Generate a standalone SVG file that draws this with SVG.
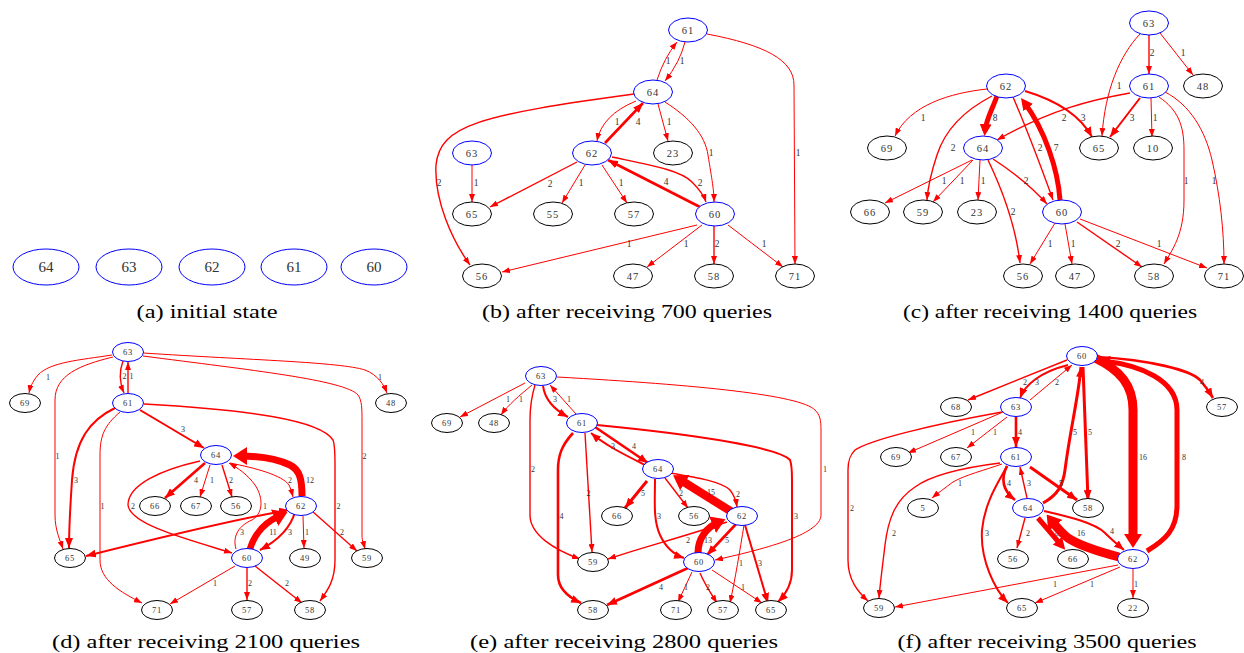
<svg xmlns="http://www.w3.org/2000/svg" width="1244" height="653" viewBox="0 0 1244 653">
<style>
text{font-family:"Liberation Serif",serif;fill:#333;text-anchor:middle;dominant-baseline:central}
.cap{font-size:19px;fill:#000;dominant-baseline:alphabetic}
.na{font-size:15px}
.tb{font-size:10.5px;letter-spacing:1px}
.td{font-size:8.5px;letter-spacing:0.8px}
.lb{font-size:9.5px}
.ld{font-size:8px}
ellipse{fill:#fff;stroke:#000;stroke-width:1}
ellipse.bl{stroke:#00f}
.edges path{fill:none;stroke:#f00}
.e1{stroke-width:1;marker-end:url(#a1)}
.e2{stroke-width:1.4;marker-end:url(#a1)}
.e3{stroke-width:2;marker-end:url(#a2)}
.e4{stroke-width:2.6;marker-end:url(#a2)}
.e5{stroke-width:3;marker-end:url(#a2)}
.e7{stroke-width:5;marker-end:url(#a3)}
.e11{stroke-width:6.5;marker-end:url(#a4)}
.e12{stroke-width:7;marker-end:url(#a4)}
.e15{stroke-width:8.5;marker-end:url(#a4)}
.e16{stroke-width:9;marker-end:url(#a4)}
</style>
<defs>
<marker id="a1" markerUnits="userSpaceOnUse" markerWidth="8" markerHeight="6" refX="8" refY="3" orient="auto-start-reverse"><path d="M0,0 L8,3 L0,6 z" fill="#f00"/></marker>
<marker id="a2" markerUnits="userSpaceOnUse" markerWidth="10" markerHeight="8" refX="10" refY="4" orient="auto-start-reverse"><path d="M0,0 L10,4 L0,8 z" fill="#f00"/></marker>
<marker id="a3" markerUnits="userSpaceOnUse" markerWidth="12" markerHeight="12" refX="7" refY="6" orient="auto"><path d="M0,0 L12,6 L0,12 z" fill="#f00"/></marker>
<marker id="a4" markerUnits="userSpaceOnUse" markerWidth="14" markerHeight="18" refX="7" refY="9" orient="auto"><path d="M0,0 L14,9 L0,18 z" fill="#f00"/></marker>
</defs>

<!-- Panel (a) -->
<g id="a-n64"><ellipse class="bl" cx="46" cy="267" rx="33" ry="18"/><text class="na" x="46" y="267">64</text></g>
<g id="a-n63"><ellipse class="bl" cx="129" cy="267" rx="33" ry="18"/><text class="na" x="129" y="267">63</text></g>
<g id="a-n62"><ellipse class="bl" cx="212" cy="267" rx="33" ry="18"/><text class="na" x="212" y="267">62</text></g>
<g id="a-n61"><ellipse class="bl" cx="294" cy="267" rx="33" ry="18"/><text class="na" x="294" y="267">61</text></g>
<g id="a-n60"><ellipse class="bl" cx="374" cy="267" rx="33" ry="18"/><text class="na" x="374" y="267">60</text></g>
<text class="cap" x="207" y="318" textLength="141" lengthAdjust="spacingAndGlyphs">(a) initial state</text>

<!-- Panel (b) -->
<g class="edges" id="b-edges">
<path class="e1" d="M657,80 Q664,58 677,42"/><text class="lb" x="668" y="61">1</text>
<path class="e1" d="M685,42 Q680,62 665,81"/><text class="lb" x="682" y="61">1</text>
<path class="e1" d="M707,34 C765,45 794,60 794,85 L795,264"/><text class="lb" x="798" y="153">1</text>
<path class="e2" d="M634,94 C480,115 440,125 436,165 C434,200 452,240 470,265"/><text class="lb" x="439" y="183">2</text>
<path class="e1" d="M636,101 Q602,115 597,141"/><text class="lb" x="617" y="122">1</text>
<path class="e4" d="M605,143 L643,103"/><text class="lb" x="638" y="122">4</text>
<path class="e1" d="M658,104 L668,141"/><text class="lb" x="669" y="122">1</text>
<path class="e1" d="M665,102 C690,118 705,135 708,155 C712,180 714,190 714,202"/><text class="lb" x="711" y="153">1</text>
<path class="e1" d="M472,165 L472,202"/><text class="lb" x="476" y="183">1</text>
<path class="e2" d="M577,162 L490,207"/><text class="lb" x="550" y="184">2</text>
<path class="e1" d="M585,165 L562,203"/><text class="lb" x="581" y="183">1</text>
<path class="e1" d="M602,165 L627,203"/><text class="lb" x="621" y="183">1</text>
<path class="e4" d="M700,207 L608,160"/><text class="lb" x="666" y="182">4</text>
<path class="e2" d="M612,157 C650,165 680,170 692,182 C700,190 704,196 706,202"/><text class="lb" x="700" y="183">2</text>
<path class="e1" d="M697,225 L502,272"/><text class="lb" x="629" y="244">1</text>
<path class="e1" d="M702,225 L647,267"/><text class="lb" x="686" y="244">1</text>
<path class="e2" d="M714,226 L714,264"/><text class="lb" x="717" y="244">2</text>
<path class="e1" d="M728,225 L783,267"/><text class="lb" x="764" y="244">1</text>
</g>
<g id="b-n61"><ellipse class="bl" cx="688" cy="30" rx="19.5" ry="12"/><text class="tb" x="688" y="30">61</text></g>
<g id="b-n64"><ellipse class="bl" cx="653" cy="92" rx="19.5" ry="12"/><text class="tb" x="653" y="92">64</text></g>
<g id="b-n63"><ellipse class="bl" cx="472" cy="153" rx="19.5" ry="12"/><text class="tb" x="472" y="153">63</text></g>
<g id="b-n62"><ellipse class="bl" cx="592" cy="153" rx="19.5" ry="12"/><text class="tb" x="592" y="153">62</text></g>
<g id="b-n23"><ellipse cx="673" cy="153" rx="19.5" ry="12"/><text class="tb" x="673" y="153">23</text></g>
<g id="b-n65"><ellipse cx="472" cy="214" rx="19.5" ry="12"/><text class="tb" x="472" y="214">65</text></g>
<g id="b-n55"><ellipse cx="553" cy="214" rx="19.5" ry="12"/><text class="tb" x="553" y="214">55</text></g>
<g id="b-n57"><ellipse cx="634" cy="214" rx="19.5" ry="12"/><text class="tb" x="634" y="214">57</text></g>
<g id="b-n60"><ellipse class="bl" cx="715" cy="214" rx="19.5" ry="12"/><text class="tb" x="715" y="214">60</text></g>
<g id="b-n56"><ellipse cx="482" cy="276" rx="19.5" ry="12"/><text class="tb" x="482" y="276">56</text></g>
<g id="b-n47"><ellipse cx="633" cy="276" rx="19.5" ry="12"/><text class="tb" x="633" y="276">47</text></g>
<g id="b-n58"><ellipse cx="714" cy="276" rx="19.5" ry="12"/><text class="tb" x="714" y="276">58</text></g>
<g id="b-n71"><ellipse cx="795" cy="276" rx="19.5" ry="12"/><text class="tb" x="795" y="276">71</text></g>
<text class="cap" x="627" y="318" textLength="290" lengthAdjust="spacingAndGlyphs">(b) after receiving 700 queries</text>

<!-- Panel (c) -->
<g class="edges" id="c-edges">
<path class="e2" d="M1149,35 L1149,74"/><text class="lb" x="1152" y="53">2</text>
<path class="e1" d="M1160,33 L1193,75"/><text class="lb" x="1183" y="53">1</text>
<path class="e1" d="M1140,34 C1120,55 1105,90 1102,136"/><text class="lb" x="1119" y="86">1</text>
<path class="e2" d="M1130,93 C1090,100 1050,110 997,140"/><text class="lb" x="1064" y="118">2</text>
<path class="e3" d="M1140,98 L1110,137"/><text class="lb" x="1132" y="118">3</text>
<path class="e1" d="M1151,98 L1152,137"/><text class="lb" x="1155" y="118">1</text>
<path class="e1" d="M1159,97 C1178,110 1184,125 1184,150 L1184,200 C1184,235 1172,250 1164,264"/><text class="lb" x="1186" y="181">1</text>
<path class="e1" d="M1165,92 C1190,105 1205,130 1212,160 C1220,195 1224,230 1224,264"/><text class="lb" x="1214" y="181">1</text>
<path class="e1" d="M987,89 C950,93 910,105 895,136"/><text class="lb" x="923" y="118">1</text>
<path class="e7" d="M997,96 C992,110 986,120 985,131"/><text class="lb" x="995" y="118">8</text>
<path class="e3" d="M1025,91 C1055,100 1080,115 1092,137"/><text class="lb" x="1083" y="118">3</text>
<path class="e2" d="M992,96 C965,110 945,130 937,155 C932,170 928,185 927,200"/><text class="lb" x="953" y="148">2</text>
<path class="e2" d="M1013,97 C1025,125 1035,150 1053,200"/><text class="lb" x="1040" y="148">2</text>
<path class="e7" d="M1060,200 C1058,170 1045,130 1024,102"/><text class="lb" x="1056" y="148">7</text>
<path class="e1" d="M972,160 L885,203"/><text class="lb" x="944" y="181">1</text>
<path class="e1" d="M973,160 L933,202"/><text class="lb" x="962" y="181">1</text>
<path class="e1" d="M980,160 L978,200"/><text class="lb" x="983" y="181">1</text>
<path class="e2" d="M993,159 C1010,170 1030,185 1047,204"/><text class="lb" x="1026" y="181">2</text>
<path class="e2" d="M988,160 C1000,185 1015,220 1020,263"/><text class="lb" x="1013" y="212">2</text>
<path class="e1" d="M1055,223 L1030,264"/><text class="lb" x="1050" y="244">1</text>
<path class="e1" d="M1065,224 L1072,264"/><text class="lb" x="1073" y="244">1</text>
<path class="e2" d="M1077,222 L1142,267"/><text class="lb" x="1118" y="244">2</text>
<path class="e1" d="M1080,219 L1207,268"/><text class="lb" x="1159" y="244">1</text>
</g>
<g id="c-n63"><ellipse class="bl" cx="1149" cy="23" rx="19.5" ry="12"/><text class="tb" x="1149" y="23">63</text></g>
<g id="c-n61"><ellipse class="bl" cx="1149" cy="86" rx="19.5" ry="12"/><text class="tb" x="1149" y="86">61</text></g>
<g id="c-n48"><ellipse cx="1203" cy="86" rx="19.5" ry="12"/><text class="tb" x="1203" y="86">48</text></g>
<g id="c-n62"><ellipse class="bl" cx="1006" cy="86" rx="19.5" ry="12"/><text class="tb" x="1006" y="86">62</text></g>
<g id="c-n69"><ellipse cx="887" cy="148" rx="19.5" ry="12"/><text class="tb" x="887" y="148">69</text></g>
<g id="c-n64"><ellipse class="bl" cx="983" cy="148" rx="19.5" ry="12"/><text class="tb" x="983" y="148">64</text></g>
<g id="c-n65"><ellipse cx="1099" cy="148" rx="19.5" ry="12"/><text class="tb" x="1099" y="148">65</text></g>
<g id="c-n10"><ellipse cx="1153" cy="148" rx="19.5" ry="12"/><text class="tb" x="1153" y="148">10</text></g>
<g id="c-n66"><ellipse cx="870" cy="212" rx="19.5" ry="12"/><text class="tb" x="870" y="212">66</text></g>
<g id="c-n59"><ellipse cx="923" cy="212" rx="19.5" ry="12"/><text class="tb" x="923" y="212">59</text></g>
<g id="c-n23"><ellipse cx="977" cy="212" rx="19.5" ry="12"/><text class="tb" x="977" y="212">23</text></g>
<g id="c-n60"><ellipse class="bl" cx="1062" cy="212" rx="19.5" ry="12"/><text class="tb" x="1062" y="212">60</text></g>
<g id="c-n56"><ellipse cx="1023" cy="276" rx="19.5" ry="12"/><text class="tb" x="1023" y="276">56</text></g>
<g id="c-n47"><ellipse cx="1075" cy="276" rx="19.5" ry="12"/><text class="tb" x="1075" y="276">47</text></g>
<g id="c-n58"><ellipse cx="1154" cy="276" rx="19.5" ry="12"/><text class="tb" x="1154" y="276">58</text></g>
<g id="c-n71"><ellipse cx="1224" cy="276" rx="19.5" ry="12"/><text class="tb" x="1224" y="276">71</text></g>
<text class="cap" x="1050" y="318" textLength="294" lengthAdjust="spacingAndGlyphs">(c) after receiving 1400 queries</text>

<!-- Panel (d) -->
<g class="edges" id="d-edges">
<path class="e1" d="M112,355 C80,360 50,362 38,375 C32,382 30,388 29,393"/><text class="ld" x="48" y="377">1</text>
<path class="e2" d="M123,361 Q117,377 124,393"/><text class="ld" x="124.5" y="376">2</text>
<path class="e2" d="M128,393 L128,362"/><text class="ld" x="131.5" y="376">1</text>
<path class="e1" d="M143,353 C250,360 340,362 365,370 C378,375 384,385 387,393"/><text class="ld" x="380" y="377">1</text>
<path class="e1" d="M113,357 C80,365 55,375 55,400 L55,515 C55,530 60,540 63,549"/><text class="ld" x="57.5" y="456">1</text>
<path class="e1" d="M143,356 C250,370 345,380 358,395 C362,400 362,410 362,420 L362,535 C362,542 364,545 365,549"/><text class="ld" x="364.5" y="456">2</text>
<path class="e3" d="M140,410 L204,448"/><text class="ld" x="183" y="429">3</text>
<path class="e3" d="M115,408 C90,420 75,440 72,480 C70,510 69,530 69,548"/><text class="ld" x="76" y="480">3</text>
<path class="e1" d="M120,412 C105,425 100,435 100,455 L100,560 C100,580 120,592 142,603"/><text class="ld" x="102.5" y="506">1</text>
<path class="e2" d="M144,404 C250,410 320,420 333,440 C335,445 335,455 335,465 L335,560 C335,580 328,590 320,601"/><text class="ld" x="338.5" y="506">2</text>
<path class="e4" d="M205,463 L165,498"/><text class="ld" x="196" y="480">4</text>
<path class="e1" d="M210,465 L200,497"/><text class="ld" x="212" y="480">1</text>
<path class="e2" d="M222,465 L232,497"/><text class="ld" x="231" y="480">2</text>
<path class="e1" d="M230,463 C255,468 282,475 289,485 C291,489 292,493 293,497"/><text class="ld" x="290" y="480">2</text>
<path class="e12" d="M302,496 C302,480 300,470 290,465 C275,458 255,456 240,456"/><text class="ld" x="310" y="480">12</text>
<path class="e2" d="M200,461 C160,470 128,485 128,505 C130,525 190,540 232,553"/><text class="ld" x="133" y="506">2</text>
<path class="e1" d="M236,549 C232,535 240,525 252,520 C265,512 262,495 255,485 C248,475 238,468 229,463"/><text class="ld" x="265" y="506">1</text>
<path class="e3" style="marker-start:url(#a2)" d="M86,556 C150,540 230,520 289,510"/><text class="ld" x="242" y="532">3</text>
<path class="e11" d="M250,549 C255,532 265,522 281,515"/><text class="ld" x="273" y="532">11</text>
<path class="e3" d="M295,512 C290,530 275,542 260,550"/><text class="ld" x="290" y="532">3</text>
<path class="e1" d="M303,516 L304,548"/><text class="ld" x="307" y="532">1</text>
<path class="e2" d="M312,511 L357,551"/><text class="ld" x="342" y="532">2</text>
<path class="e1" d="M235,566 L170,604"/><text class="ld" x="215" y="583">1</text>
<path class="e2" d="M247,568 L247,600"/><text class="ld" x="250" y="583">2</text>
<path class="e2" d="M255,566 L302,603"/><text class="ld" x="287" y="583">2</text>
</g>
<g id="d-n63"><ellipse class="bl" cx="128" cy="352" rx="15.5" ry="9.5"/><text class="td" x="128" y="352">63</text></g>
<g id="d-n69"><ellipse cx="25" cy="403" rx="15.5" ry="9.5"/><text class="td" x="25" y="403">69</text></g>
<g id="d-n61"><ellipse class="bl" cx="128" cy="403" rx="15.5" ry="9.5"/><text class="td" x="128" y="403">61</text></g>
<g id="d-n48"><ellipse cx="391" cy="403" rx="15.5" ry="9.5"/><text class="td" x="391" y="403">48</text></g>
<g id="d-n64"><ellipse class="bl" cx="216" cy="455" rx="15.5" ry="9.5"/><text class="td" x="216" y="455">64</text></g>
<g id="d-n66"><ellipse cx="155" cy="506" rx="15.5" ry="9.5"/><text class="td" x="155" y="506">66</text></g>
<g id="d-n67"><ellipse cx="196" cy="506" rx="15.5" ry="9.5"/><text class="td" x="196" y="506">67</text></g>
<g id="d-n56"><ellipse cx="236" cy="506" rx="15.5" ry="9.5"/><text class="td" x="236" y="506">56</text></g>
<g id="d-n62"><ellipse class="bl" cx="301" cy="506" rx="15.5" ry="9.5"/><text class="td" x="301" y="506">62</text></g>
<g id="d-n65"><ellipse cx="70" cy="558" rx="15.5" ry="9.5"/><text class="td" x="70" y="558">65</text></g>
<g id="d-n60"><ellipse class="bl" cx="247" cy="558" rx="15.5" ry="9.5"/><text class="td" x="247" y="558">60</text></g>
<g id="d-n49"><ellipse cx="305" cy="558" rx="15.5" ry="9.5"/><text class="td" x="305" y="558">49</text></g>
<g id="d-n59"><ellipse cx="367" cy="558" rx="15.5" ry="9.5"/><text class="td" x="367" y="558">59</text></g>
<g id="d-n71"><ellipse cx="157" cy="610" rx="15.5" ry="9.5"/><text class="td" x="157" y="610">71</text></g>
<g id="d-n57"><ellipse cx="247" cy="610" rx="15.5" ry="9.5"/><text class="td" x="247" y="610">57</text></g>
<g id="d-n58"><ellipse cx="310" cy="610" rx="15.5" ry="9.5"/><text class="td" x="310" y="610">58</text></g>
<text class="cap" x="206" y="648" textLength="308" lengthAdjust="spacingAndGlyphs">(d) after receiving 2100 queries</text>

<!-- Panel (e) -->
<g class="edges" id="e-edges">
<path class="e1" d="M525,383 L460,417"/><text class="ld" x="508" y="399">1</text>
<path class="e1" d="M532,385 C520,395 508,405 501,415"/><text class="ld" x="521" y="399">1</text>
<path class="e3" d="M543,386 C545,400 555,410 568,417"/><text class="ld" x="555" y="399">3</text>
<path class="e1" d="M576,414 L550,385"/><text class="ld" x="569" y="399">1</text>
<path class="e1" d="M557,377 C700,385 800,395 815,410 C820,415 821,420 821,430 L821,515 C821,535 760,550 715,560"/><text class="ld" x="825" y="469">1</text>
<path class="e2" d="M535,385 C532,395 530,405 530,420 L530,515 C530,535 555,550 580,559"/><text class="ld" x="533" y="469">2</text>
<path class="e4" d="M573,433 C562,445 558,455 558,470 L558,575 C558,590 570,598 581,603"/><text class="ld" x="561.5" y="516">4</text>
<path class="e2" d="M585,433 L592,552"/><text class="ld" x="588.5" y="493">2</text>
<path class="e4" d="M595,427 L648,463"/><text class="ld" x="634" y="446">4</text>
<path class="e3" d="M645,465 C625,455 605,445 591,433"/><text class="ld" x="613" y="446">3</text>
<path class="e3" d="M597,425 C700,435 780,448 790,460 C792,465 792,470 792,480 L792,570 C792,585 785,595 778,602"/><text class="ld" x="796" y="516">3</text>
<path class="e5" d="M647,481 L625,508"/><text class="ld" x="643" y="493">5</text>
<path class="e2" d="M665,478 L688,508"/><text class="ld" x="681" y="493">2</text>
<path class="e15" d="M732,512 L679,479"/><text class="ld" x="711" y="492">15</text>
<path class="e2" d="M670,473 C700,478 722,482 730,490 C734,495 736,500 737,507"/><text class="ld" x="738" y="494">2</text>
<path class="e3" d="M655,479 C655,500 653,520 660,535 C666,548 675,555 684,558"/><text class="ld" x="659" y="516">3</text>
<path class="e12" d="M698,553 C698,538 707,527 719,522"/><text class="ld" x="708" y="540">13</text>
<path class="e4" d="M737,523 L707,555"/><text class="ld" x="727" y="540">5</text>
<path class="e2" d="M727,522 C690,535 640,548 608,559"/><text class="ld" x="688" y="540">2</text>
<path class="e1" d="M744,525 C740,550 735,580 730,603"/><text class="ld" x="741" y="563">1</text>
<path class="e3" d="M745,525 L768,603"/><text class="ld" x="760" y="563">3</text>
<path class="e4" d="M688,568 L607,605"/><text class="ld" x="661" y="587">4</text>
<path class="e1" d="M692,572 L678,602"/><text class="ld" x="686" y="587">1</text>
<path class="e2" d="M700,573 C705,585 712,595 717,603"/><text class="ld" x="708" y="587">2</text>
<path class="e1" d="M712,570 L762,603"/><text class="ld" x="743" y="587">1</text>
</g>
<g id="e-n63"><ellipse class="bl" cx="541" cy="376" rx="15.5" ry="9.5"/><text class="td" x="541" y="376">63</text></g>
<g id="e-n69"><ellipse cx="447" cy="423" rx="15.5" ry="9.5"/><text class="td" x="447" y="423">69</text></g>
<g id="e-n48"><ellipse cx="494" cy="423" rx="15.5" ry="9.5"/><text class="td" x="494" y="423">48</text></g>
<g id="e-n61"><ellipse class="bl" cx="582" cy="423" rx="15.5" ry="9.5"/><text class="td" x="582" y="423">61</text></g>
<g id="e-n64"><ellipse class="bl" cx="658" cy="469" rx="15.5" ry="9.5"/><text class="td" x="658" y="469">64</text></g>
<g id="e-n66"><ellipse cx="617" cy="516" rx="15.5" ry="9.5"/><text class="td" x="617" y="516">66</text></g>
<g id="e-n56"><ellipse cx="694" cy="516" rx="15.5" ry="9.5"/><text class="td" x="694" y="516">56</text></g>
<g id="e-n62"><ellipse class="bl" cx="742" cy="516" rx="15.5" ry="9.5"/><text class="td" x="742" y="516">62</text></g>
<g id="e-n59"><ellipse cx="593" cy="562" rx="15.5" ry="9.5"/><text class="td" x="593" y="562">59</text></g>
<g id="e-n60"><ellipse class="bl" cx="699" cy="562" rx="15.5" ry="9.5"/><text class="td" x="699" y="562">60</text></g>
<g id="e-n58"><ellipse cx="593" cy="610" rx="15.5" ry="9.5"/><text class="td" x="593" y="610">58</text></g>
<g id="e-n71"><ellipse cx="676" cy="610" rx="15.5" ry="9.5"/><text class="td" x="676" y="610">71</text></g>
<g id="e-n57"><ellipse cx="723" cy="610" rx="15.5" ry="9.5"/><text class="td" x="723" y="610">57</text></g>
<g id="e-n65"><ellipse cx="771" cy="610" rx="15.5" ry="9.5"/><text class="td" x="771" y="610">65</text></g>
<text class="cap" x="624" y="648" textLength="308" lengthAdjust="spacingAndGlyphs">(e) after receiving 2800 queries</text>

<!-- Panel (f) -->
<g class="edges" id="f-edges">
<path class="e2" d="M1067,360 L968,400"/><text class="ld" x="1025" y="382">2</text>
<path class="e3" d="M1068,365 C1040,372 1025,385 1020,398"/><text class="ld" x="1037" y="382">3</text>
<path class="e1" d="M1030,400 L1072,365"/><text class="ld" x="1057" y="382">2</text>
<path class="e4" d="M1098,357 C1150,360 1190,370 1200,380 C1207,388 1210,393 1213,398"/><text class="ld" x="1202" y="382">4</text>
<path class="e1" d="M1003,412 L908,453"/><text class="ld" x="973" y="432">1</text>
<path class="e1" d="M1007,417 L967,448"/><text class="ld" x="995" y="432">1</text>
<path class="e4" d="M1016,417 L1016,447"/><text class="ld" x="1020" y="432">4</text>
<path class="e2" d="M1002,412 C930,425 870,440 855,450 C850,455 848,460 848,470 L848,560 C848,580 858,592 868,601"/><text class="ld" x="852" y="508">2</text>
<path class="e5" d="M1043,503 C1058,495 1063,485 1065,470 C1070,430 1078,400 1081,367"/><text class="ld" x="1075" y="432">5</text>
<path class="e5" d="M1083,367 L1088,500"/><text class="ld" x="1090" y="432">5</text>
<path class="e16" d="M1095,358 C1120,370 1133,385 1133,410 L1133,541"/><text class="ld" x="1143" y="457">16</text>
<path class="e7" d="M1147,551 C1165,540 1177,530 1177,505 L1177,410 C1177,380 1140,365 1103,361"/><text class="ld" x="1184" y="457">8</text>
<path class="e1" d="M1002,464 C985,470 965,475 953,482 C945,488 938,493 932,498"/><text class="ld" x="960" y="483">1</text>
<path class="e2" d="M1000,463 C960,468 930,476 915,487 C895,500 888,520 885,545 C882,570 880,585 879,598"/><text class="ld" x="894" y="533">2</text>
<path class="e3" d="M1007,466 C1000,480 985,500 982,530 C980,560 995,590 1008,603"/><text class="ld" x="987" y="533">3</text>
<path class="e4" d="M1007,466 C1001,478 1002,490 1015,500"/><text class="ld" x="1009" y="483">4</text>
<path class="e2" d="M1027,498 L1020,467"/><text class="ld" x="1029" y="483">3</text>
<path class="e5" d="M1030,467 L1077,500"/><text class="ld" x="1061" y="483">5</text>
<path class="e2" d="M1025,518 L1017,548"/><text class="ld" x="1028" y="533">2</text>
<path class="e7" d="M1038,518 L1062,546"/><text class="ld" x="1057" y="533">8</text>
<path class="e16" d="M1119,557 C1100,552 1080,546 1068,538 C1060,532 1055,525 1051,520"/><text class="ld" x="1081" y="533">16</text>
<path class="e3" d="M1044,511 C1070,517 1095,523 1105,533 C1112,540 1118,545 1124,550"/><text class="ld" x="1112" y="531">4</text>
<path class="e1" d="M1118,565 L895,607"/><text class="ld" x="1055" y="584">1</text>
<path class="e1" d="M1120,567 L1035,603"/><text class="ld" x="1092" y="584">1</text>
<path class="e1" d="M1133,569 L1133,598"/><text class="ld" x="1136" y="584">1</text>
</g>
<g id="f-n60"><ellipse class="bl" cx="1082" cy="356" rx="15.5" ry="9.5"/><text class="td" x="1082" y="356">60</text></g>
<g id="f-n68"><ellipse cx="956" cy="407" rx="15.5" ry="9.5"/><text class="td" x="956" y="407">68</text></g>
<g id="f-n63"><ellipse class="bl" cx="1016" cy="407" rx="15.5" ry="9.5"/><text class="td" x="1016" y="407">63</text></g>
<g id="f-n57"><ellipse cx="1222" cy="407" rx="15.5" ry="9.5"/><text class="td" x="1222" y="407">57</text></g>
<g id="f-n69"><ellipse cx="896" cy="457" rx="15.5" ry="9.5"/><text class="td" x="896" y="457">69</text></g>
<g id="f-n67"><ellipse cx="956" cy="457" rx="15.5" ry="9.5"/><text class="td" x="956" y="457">67</text></g>
<g id="f-n61"><ellipse class="bl" cx="1016" cy="457" rx="15.5" ry="9.5"/><text class="td" x="1016" y="457">61</text></g>
<g id="f-n5"><ellipse cx="923" cy="508" rx="15.5" ry="9.5"/><text class="td" x="923" y="508">5</text></g>
<g id="f-n64"><ellipse class="bl" cx="1028" cy="508" rx="15.5" ry="9.5"/><text class="td" x="1028" y="508">64</text></g>
<g id="f-n58"><ellipse cx="1088" cy="508" rx="15.5" ry="9.5"/><text class="td" x="1088" y="508">58</text></g>
<g id="f-n56"><ellipse cx="1013" cy="559" rx="15.5" ry="9.5"/><text class="td" x="1013" y="559">56</text></g>
<g id="f-n66"><ellipse cx="1073" cy="559" rx="15.5" ry="9.5"/><text class="td" x="1073" y="559">66</text></g>
<g id="f-n62"><ellipse class="bl" cx="1133" cy="559" rx="15.5" ry="9.5"/><text class="td" x="1133" y="559">62</text></g>
<g id="f-n59"><ellipse cx="879" cy="608" rx="15.5" ry="9.5"/><text class="td" x="879" y="608">59</text></g>
<g id="f-n65"><ellipse cx="1022" cy="608" rx="15.5" ry="9.5"/><text class="td" x="1022" y="608">65</text></g>
<g id="f-n22"><ellipse cx="1133" cy="608" rx="15.5" ry="9.5"/><text class="td" x="1133" y="608">22</text></g>
<text class="cap" x="1047" y="648" textLength="299" lengthAdjust="spacingAndGlyphs">(f) after receiving 3500 queries</text>
</svg>
